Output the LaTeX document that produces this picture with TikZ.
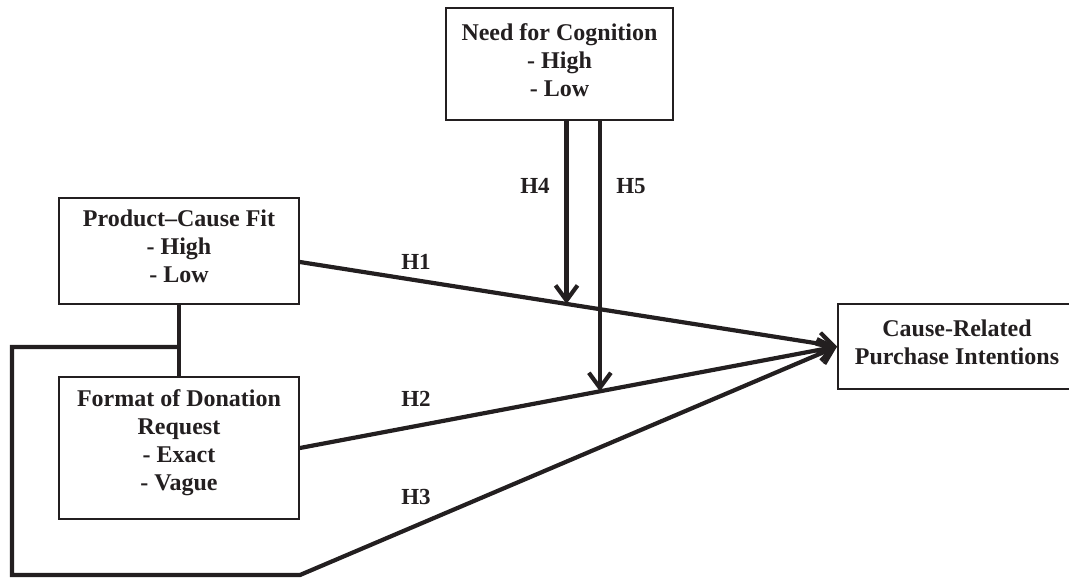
\documentclass[tikz,border=0pt]{standalone}
\usepackage{fontspec}
\setmainfont{Liberation Serif}
\usetikzlibrary{arrows.meta,calc}
\definecolor{ink}{RGB}{35,31,32}
\begin{document}
\begin{tikzpicture}[x=1pt,y=-1pt,color=ink,
  box/.style={draw=ink,line width=1.8pt,inner sep=0pt,rectangle},
  txt/.style={align=center,text=ink,font=\bfseries\fontsize{24}{28}\selectfont,inner sep=0pt},
  hyp/.style={text=ink,font=\bfseries\fontsize{23}{26}\selectfont,inner sep=0pt},
  link/.style={draw=ink,line width=4.2pt},
  arr/.style={draw=ink,line width=4.2pt,line join=miter,-{Straight Barb[length=15pt,width=22pt]}},
]
\useasboundingbox (0,0) rectangle (1069,578);

% boxes
\node[box,minimum width=227pt,minimum height=112pt] (nc) at (559.5,64) {};
\node[txt] (ncT) at ([yshift=4pt]nc.center) {Need for Cognition\\- High\\- Low};

\node[box,minimum width=240pt,minimum height=106pt] (pcf) at (179,251) {};
\node[txt] (pcfT) at ([yshift=5pt]pcf.center) {Product--Cause Fit\\- High\\- Low};

\node[box,minimum width=240pt,minimum height=142pt] (fdr) at (179,448) {};
\node[txt] (fdrT) at ([yshift=5pt]fdr.center) {Format of Donation\\Request\\- Exact\\- Vague};

\node[box,minimum width=234pt,minimum height=85pt] (crpi) at (955,346.5) {};
\node[txt] (crpiT) at ([xshift=2pt,yshift=4pt]crpi.center) {Cause-Related\\Purchase Intentions};

% main paths
\coordinate (h1s) at ([yshift=-11pt]pcf.east);
\draw[arr] (h1s) -- (crpi.west);
\draw[arr] (fdr.east) -- (crpi.west);

% interaction loop
\draw[link] (pcf.south) -- (fdr.north);
\coordinate (j) at ($(pcf.south)!0.59!(fdr.north)$);
\coordinate (cl) at (12,347);
\coordinate (cb) at (12,575);
\coordinate (cr) at (300,575);
\draw[arr] (j) -- (cl) -- (cb) -- (cr) -- (crpi.west);

% moderation arrows
\coordinate (h4) at ($(h1s)!0.4963!(crpi.west)$);
\coordinate (h5) at ($(fdr.east)!0.5584!(crpi.west)$);
\draw[arr] (nc.south -| h4) -- (h4);
\draw[arr] (nc.south -| h5) -- (h5);

% labels
\node[hyp] (lh1) at (416,262) {H1};
\node[hyp] (lh2) at (416,399) {H2};
\node[hyp] (lh3) at (416,497) {H3};
\node[hyp] (lh4) at (535,186) {H4};
\node[hyp] (lh5) at (631,186) {H5};
\end{tikzpicture}
\end{document}
